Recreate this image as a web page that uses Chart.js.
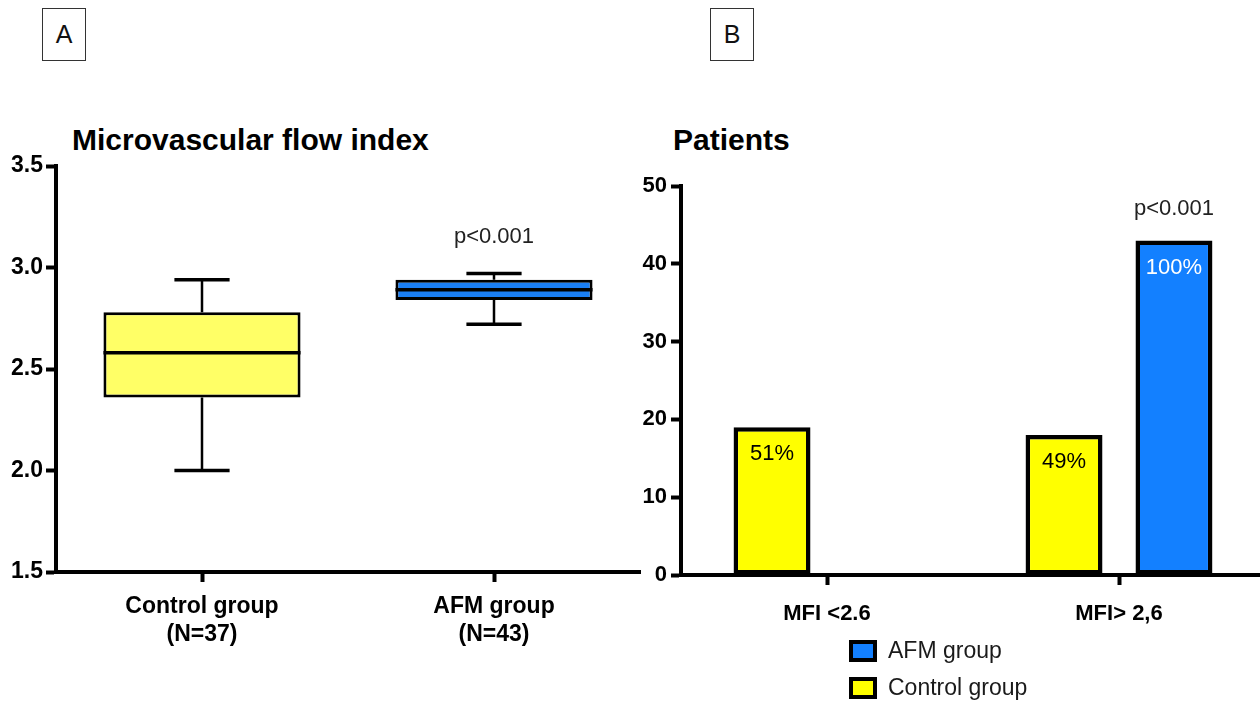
<!DOCTYPE html>
<html>
<head>
<meta charset="utf-8">
<title>MFI panels</title>
<script src="https://cdn.jsdelivr.net/npm/chart.js@4.4.0/dist/chart.umd.min.js"></script>
<style>
  html, body {
    margin: 0; padding: 0; background: #fff;
    width: 1260px; height: 702px; overflow: hidden; position: relative;
    font-family: "Liberation Sans", Arial, sans-serif;
  }
  .tag {
    position: absolute; top: 8px; width: 44px; height: 53px;
    border: 1.5px solid #333; box-sizing: border-box;
    font-size: 25px; line-height: 50px; text-align: center; color: #111;
  }
  .title {
    position: absolute; top: 123px; font-size: 30px; font-weight: bold;
    line-height: 34px; color: #000;
  }
  #boxCanvas { position: absolute; left: 0; top: 0; }
  #barCanvas { position: absolute; left: 630px; top: 0; }
  #legend { position: absolute; left: 849px; top: 632px; }
  .legend-row { display: flex; align-items: center; height: 37px; }
  .swatch { width: 28px; height: 22px; border: 4px solid #000; box-sizing: border-box; }
  .legend-text { margin-left: 11px; font-size: 23px; color: #1a1a1a; }
</style>
</head>
<body>
<div class="tag" style="left:42px">A</div>
<div class="tag" style="left:710px">B</div>
<div class="title" style="left:72px">Microvascular flow index</div>
<div class="title" style="left:673px">Patients</div>
<canvas id="boxCanvas" width="650" height="702"></canvas>
<canvas id="barCanvas" width="640" height="702"></canvas>
<div id="legend"></div>

<script>
const FONT = '"Liberation Sans", Arial, sans-serif';
Chart.defaults.font.family = FONT;
Chart.defaults.color = "#000";

// Panel A - microvascular flow index, box plot summary
const boxGroups = [["Control group", "(N=37)"], ["AFM group", "(N=43)"]];
const boxMin = [2.00, 2.72];
const boxQ1 = [2.36, 2.84];
const boxMedian = [2.58, 2.89];
const boxQ3 = [2.78, 2.94];
const boxMax = [2.94, 2.97];
const boxColors = ["#FFFF66", "#1A7FF5"];
const yTicksA = [1.5, 2.0, 2.5, 3.0, 3.5];
const pTextA = "p<0.001";
const pPosA = 3.15; // y value where the p text sits, above AFM box

// Panel B - patients per MFI class
const mfiCategories = ["MFI <2.6", "MFI> 2,6"];
const controlCounts = [19, 18];
const afmCounts = [0, 43];
const controlPct = ["51%", "49%"];
const afmPct = ["", "100%"];
const yTicksB = [0, 10, 20, 30, 40, 50];
const pTextB = "p<0.001";
const pPosB = 47;

const controlColor = "#FFFF00";
const afmColor = "#1380FF";

function axisStyle(size) {
  return {
    grid: { drawOnChartArea: false, drawTicks: true, tickLength: 10, tickWidth: 4, tickColor: "#000", offset: false },
    border: { display: true, color: "#000", width: 4 },
    ticks: { color: "#000", font: { family: FONT, size: size, weight: "bold" } }
  };
}

// draws whiskers behind the boxes and medians + p value on top
const boxPlotParts = {
  id: "boxPlotParts",
  beforeDatasetsDraw(chart) {
    const ctx = chart.ctx;
    const y = chart.scales.y;
    const meta = chart.getDatasetMeta(0);
    ctx.save();
    ctx.strokeStyle = "#000";
    meta.data.forEach((bar, i) => {
      const cap = bar.width * 0.28;
      ctx.lineWidth = 2.5;
      ctx.beginPath();
      ctx.moveTo(bar.x, y.getPixelForValue(boxMax[i]));
      ctx.lineTo(bar.x, y.getPixelForValue(boxQ3[i]));
      ctx.moveTo(bar.x, y.getPixelForValue(boxQ1[i]));
      ctx.lineTo(bar.x, y.getPixelForValue(boxMin[i]));
      ctx.stroke();
      ctx.lineWidth = 3.5;
      ctx.beginPath();
      [boxMax[i], boxMin[i]].forEach(v => {
        const py = y.getPixelForValue(v);
        ctx.moveTo(bar.x - cap / 2, py);
        ctx.lineTo(bar.x + cap / 2, py);
      });
      ctx.stroke();
    });
    ctx.restore();
  },
  afterDatasetsDraw(chart) {
    const ctx = chart.ctx;
    const y = chart.scales.y;
    const meta = chart.getDatasetMeta(0);
    ctx.save();
    ctx.strokeStyle = "#000";
    ctx.lineWidth = 3.5;
    meta.data.forEach((bar, i) => {
      const py = y.getPixelForValue(boxMedian[i]);
      ctx.beginPath();
      ctx.moveTo(bar.x - bar.width / 2, py);
      ctx.lineTo(bar.x + bar.width / 2, py);
      ctx.stroke();
    });
    const afm = meta.data[1];
    ctx.fillStyle = "#222";
    ctx.font = "22px " + FONT;
    ctx.textAlign = "center";
    ctx.textBaseline = "middle";
    ctx.fillText(pTextA, afm.x, y.getPixelForValue(pPosA));
    ctx.restore();
  }
};

const axA = axisStyle(23);
new Chart(document.getElementById("boxCanvas"), {
  type: "bar",
  data: {
    labels: boxGroups,
    datasets: [{
      label: "MFI",
      data: boxQ1.map((q, i) => [q, boxQ3[i]]),
      backgroundColor: boxColors,
      borderColor: "#000",
      borderWidth: 3,
      borderSkipped: false,
      barPercentage: 0.675,
      categoryPercentage: 1
    }]
  },
  options: {
    responsive: false,
    animation: false,
    layout: { padding: { left: 0, top: 166, right: 10, bottom: 0 } },
    plugins: { legend: { display: false }, tooltip: { enabled: false }, title: { display: false } },
    scales: {
      x: {
        grid: axA.grid, border: axA.border,
        ticks: Object.assign({}, axA.ticks, { padding: 11, maxRotation: 0, autoSkip: false }),
        afterFit(scale) { scale.height = 130; }
      },
      y: {
        min: 1.5, max: 3.5,
        grid: axA.grid, border: axA.border,
        ticks: Object.assign({}, axA.ticks, { padding: 3, callback: v => v.toFixed(1) }),
        afterBuildTicks(scale) { scale.ticks = yTicksA.map(v => ({ value: v })); },
        afterFit(scale) { scale.width = 56; }
      }
    }
  },
  plugins: [boxPlotParts]
});

const pctLabels = [controlPct, afmPct];
const pctColors = ["#000", "#fff"];

const barTexts = {
  id: "barTexts",
  afterDatasetsDraw(chart) {
    const ctx = chart.ctx;
    const y = chart.scales.y;
    ctx.save();
    ctx.font = "22px " + FONT;
    ctx.textAlign = "center";
    ctx.textBaseline = "middle";
    chart.data.datasets.forEach((ds, d) => {
      chart.getDatasetMeta(d).data.forEach((bar, i) => {
        if (!pctLabels[d][i]) return;
        ctx.fillStyle = pctColors[d];
        ctx.fillText(pctLabels[d][i], bar.x, bar.y + 27);
      });
    });
    const afmBar = chart.getDatasetMeta(1).data[1];
    ctx.fillStyle = "#222";
    ctx.fillText(pTextB, afmBar.x, y.getPixelForValue(pPosB));
    ctx.restore();
  }
};

const axB = axisStyle(22);
const barChart = new Chart(document.getElementById("barCanvas"), {
  type: "bar",
  data: {
    labels: mfiCategories,
    datasets: [
      { label: "Control group", data: controlCounts, backgroundColor: controlColor },
      { label: "AFM group", data: afmCounts, backgroundColor: afmColor }
    ]
  },
  options: {
    responsive: false,
    animation: false,
    layout: { padding: { left: 0, top: 186, right: 5, bottom: 0 } },
    datasets: {
      bar: { borderColor: "#000", borderWidth: 4.5, borderSkipped: false, categoryPercentage: 0.753, barPercentage: 0.7 }
    },
    plugins: { legend: { display: false }, tooltip: { enabled: false }, title: { display: false } },
    scales: {
      x: {
        grid: axB.grid, border: axB.border,
        ticks: Object.assign({}, axB.ticks, { padding: 16, maxRotation: 0 }),
        afterFit(scale) { scale.height = 127; }
      },
      y: {
        min: 0, max: 50,
        grid: axB.grid, border: axB.border,
        ticks: Object.assign({}, axB.ticks, { padding: 4 }),
        afterBuildTicks(scale) { scale.ticks = yTicksB.map(v => ({ value: v })); },
        afterFit(scale) { scale.width = 51; }
      }
    }
  },
  plugins: [barTexts]
});

// legend lists AFM first, like the figure
const legendEl = document.getElementById("legend");
barChart.data.datasets.slice().reverse().forEach(ds => {
  const row = document.createElement("div");
  row.className = "legend-row";
  const sw = document.createElement("div");
  sw.className = "swatch";
  sw.style.background = ds.backgroundColor;
  const txt = document.createElement("span");
  txt.className = "legend-text";
  txt.textContent = ds.label;
  row.appendChild(sw);
  row.appendChild(txt);
  legendEl.appendChild(row);
});
</script>
</body>
</html>
